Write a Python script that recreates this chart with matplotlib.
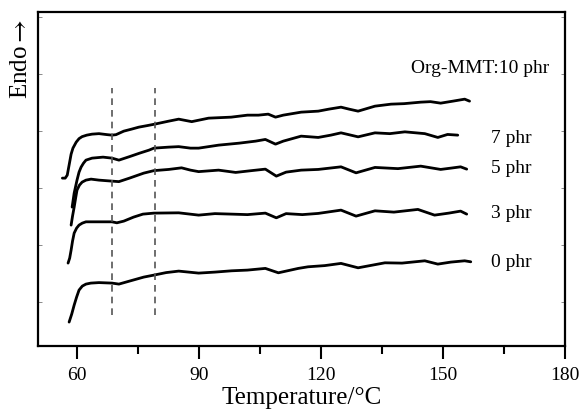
import matplotlib
matplotlib.use('Agg')
import matplotlib.pyplot as plt

plt.rcParams['font.family'] = ['Liberation Serif', 'DejaVu Serif']
plt.rcParams['mathtext.fontset'] = 'stix'

# DSC traces (temperature in C, heat flow in arbitrary units)
t_10 = [56.5, 57.2, 57.7, 58.2, 58.65, 59.1, 59.9, 60.6, 61.35, 62.5, 63.8, 65.5, 67.5, 68.7,
        69.7, 71.6, 73.5, 75.3, 77.3, 79.2, 82.65, 85.1, 88.3, 92.45, 98.0, 102.0, 104.7, 107.1,
        108.9, 110.8, 115.2, 119.4, 122.0, 125.0, 127.0, 129.2, 133.35, 137.3, 140.5, 144.6,
        147.0, 149.5, 152.5, 155.4, 156.6]
y_10 = [168, 168, 171, 182, 192, 198, 204, 207.5, 209.5, 211, 212, 212.5, 211.5, 211,
        211.5, 215, 217, 219, 220.5, 222, 225, 227, 224.5, 228, 229, 231, 231, 232,
        229, 231, 234, 235, 237, 239, 237, 235, 240, 242, 242.5, 244,
        244.5, 243, 245, 247, 245]

t_7 = [58.9, 59.4, 60.1, 60.6, 61.1, 61.7, 62.3, 63.8, 66.5, 68.7, 70.4, 73.0, 75.5, 77.8,
       79.0, 82.6, 85.1, 88.0, 90.0, 94.9, 100.0, 104.0, 106.4, 108.9, 110.8, 115.2, 119.4,
       122.5, 125.0, 129.2, 133.35, 137.0, 140.7, 145.6, 148.8, 151.2, 153.7]
y_7 = [139, 153, 166, 174, 179, 183, 186, 188, 189, 188, 186, 189.5, 193, 196,
       198, 199, 199.5, 198, 198, 201, 203, 205, 206.7, 202, 205, 210, 208.7,
       211, 213.3, 209.3, 213.3, 212.5, 214.3, 212.5, 208.7, 211.7, 211]

t_5 = [58.65, 59.0, 59.4, 59.8, 60.1, 60.7, 61.35, 62.3, 63.55, 65.5, 68.7, 70.4, 73.0, 76.5,
       79.0, 82.65, 85.8, 88.0, 90.0, 94.9, 99.1, 103.0, 106.4, 109.1, 111.5, 115.2, 119.4,
       125.0, 128.7, 133.35, 139.0, 144.6, 149.5, 152.0, 154.4, 155.9]
y_5 = [121, 130, 139, 149, 156, 161, 164, 166, 167, 166, 165, 164.5, 168, 173,
       175.5, 176.7, 178.3, 176, 174.5, 176, 173.7, 175.5, 177, 170, 174, 176, 176.7,
       179.3, 173.3, 178.7, 177.5, 180, 176.7, 178, 179.3, 177]

t_3 = [57.9, 58.3, 58.65, 59.0, 59.4, 60.0, 60.6, 61.4, 62.3, 65.5, 68.7, 69.9, 71.6, 74.0,
       76.3, 79.0, 85.1, 90.0, 94.0, 98.1, 102.0, 106.4, 109.1, 111.5, 115.5, 119.4, 125.0,
       128.7, 133.35, 138.0, 143.9, 148.0, 151.5, 154.4, 155.9]
y_3 = [83, 88, 96, 105, 113, 118, 121, 123, 124.3, 124.3, 124.3, 123.3, 125, 129,
       132, 133, 133.3, 131, 132.5, 132, 131.5, 133, 128.3, 132.5, 131.5, 132.7, 136,
       130, 135.3, 134, 136.7, 131, 133, 135, 132]

t_0 = [58.16, 58.8, 59.4, 60.0, 60.6, 61.4, 62.3, 63.5, 65.5, 68.7, 70.4, 73.0, 76.5, 79.0,
       82.0, 85.1, 90.0, 94.0, 98.1, 102.0, 106.4, 109.6, 114.5, 116.9, 121.0, 125.0, 129.2,
       135.8, 140.0, 145.6, 148.8, 152.0, 155.4, 156.9]
y_0 = [24, 32, 41, 49, 56, 60, 62, 63, 63.5, 63, 62, 65, 69, 71,
       73.5, 75, 73, 74, 75.3, 76, 77.7, 73.3, 77.7, 79.3, 80.5, 82.7, 78.3,
       83.3, 83, 85.3, 82, 84, 85.3, 84.3]

curves = [(t_10, y_10), (t_7, y_7), (t_5, y_5), (t_3, y_3), (t_0, y_0)]

labels = ['Org-MMT:10 phr', '7 phr', '5 phr', '3 phr', '0 phr']
label_x = [142.1, 161.8, 161.8, 161.8, 161.8]
label_y = [278, 208, 178, 133, 84]

tg_lines = [68.6, 79.2]

fig = plt.figure(figsize=(5.84, 4.2), dpi=100)
ax = fig.add_axes([0.065, 0.176, 0.902, 0.795])

for t, y in curves:
    ax.plot(t, y, color='black', lw=2.0, solid_joinstyle='round', solid_capstyle='round')

for xv in tg_lines:
    ax.plot([xv, xv], [31, 258], color='#555555', lw=1.2, ls=(0, (4, 3)))

for txt, xv, yv in zip(labels, label_x, label_y):
    ax.text(xv, yv, txt, fontsize=14, ha='left', va='center')

ax.set_xlim(50.5, 180)
ax.set_ylim(0, 334)
ax.set_xticks([60, 90, 120, 150, 180])
ax.set_xticks([75, 105, 135, 165], minor=True)
ax.set_yticks([44, 101, 158, 215, 272, 329])
ax.set_yticklabels([])
ax.tick_params(axis='x', which='major', direction='out', length=9, width=1.5, labelsize=14, pad=6)
ax.tick_params(axis='x', which='minor', direction='out', length=6, width=1.5)
ax.tick_params(axis='y', which='major', direction='in', length=3, width=0.6,
               color='#777777', left=True, right=True)
for s in ax.spines.values():
    s.set_linewidth(1.6)

ax.set_xlabel('Temperature/°C', fontsize=18, labelpad=2)
ax.set_ylabel(r'Endo$\rightarrow$', fontsize=18, labelpad=4)
ax.yaxis.set_label_coords(-0.012, 0.86)

fig.savefig('out.png', dpi=100)
plt.close()
